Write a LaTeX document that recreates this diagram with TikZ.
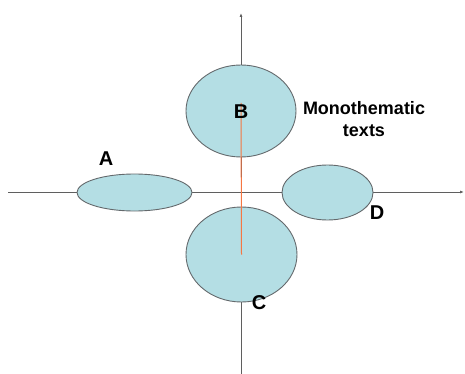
\documentclass[tikz,border=0pt]{standalone}
\usepackage{fontspec}
\setmainfont{Liberation Sans}
\usetikzlibrary{shapes.geometric,arrows.meta}
\definecolor{blobfill}{RGB}{180,222,228}
\definecolor{blobline}{RGB}{100,105,108}
\definecolor{axisgray}{RGB}{95,95,95}
\definecolor{redline}{RGB}{246,118,66}

\begin{document}
\begin{tikzpicture}[x=1pt,y=-1pt,
  axis/.style={axisgray,line width=0.9pt,-{Latex[length=4pt,width=3pt]}},
  blob/.style={ellipse,draw=blobline,line width=0.9pt,fill=blobfill,inner sep=0pt},
  tag/.style={font=\bfseries\fontsize{20}{22}\selectfont}]
\useasboundingbox (0,0) rectangle (465,374);
% axes
\coordinate (west) at (8,192); \coordinate (east) at (464,192);
\coordinate (south) at (241,374); \coordinate (north) at (241,13);
\draw[axis] (west) -- (east);
\draw[axis] (south) -- (north);
% text types
\node[blob,minimum width=115pt,minimum height=37pt] (A) at (134.5,192.5) {};
\node[blob,minimum width=110pt,minimum height=92pt] (B) at (241,111) {};
\node[blob,minimum width=111pt,minimum height=95pt] (C) at (241.5,254.5) {};
\node[blob,minimum width=91pt,minimum height=55pt] (D) at (327.5,192.5) {};
\draw[redline,line width=1pt] ([yshift=8pt]B.center) -- (C.center);
% labels
\node[tag] (labA) at (106,159) {A};
\node[tag] (labB) at (241,112) {B};
\node[tag] (labC) at (259,303) {C};
\node[tag] (labD) at (377,213) {D};
\node[font=\bfseries\fontsize{18}{22}\selectfont,align=center] (mono) at (364,119) {Monothematic\\texts};
\end{tikzpicture}
\end{document}
